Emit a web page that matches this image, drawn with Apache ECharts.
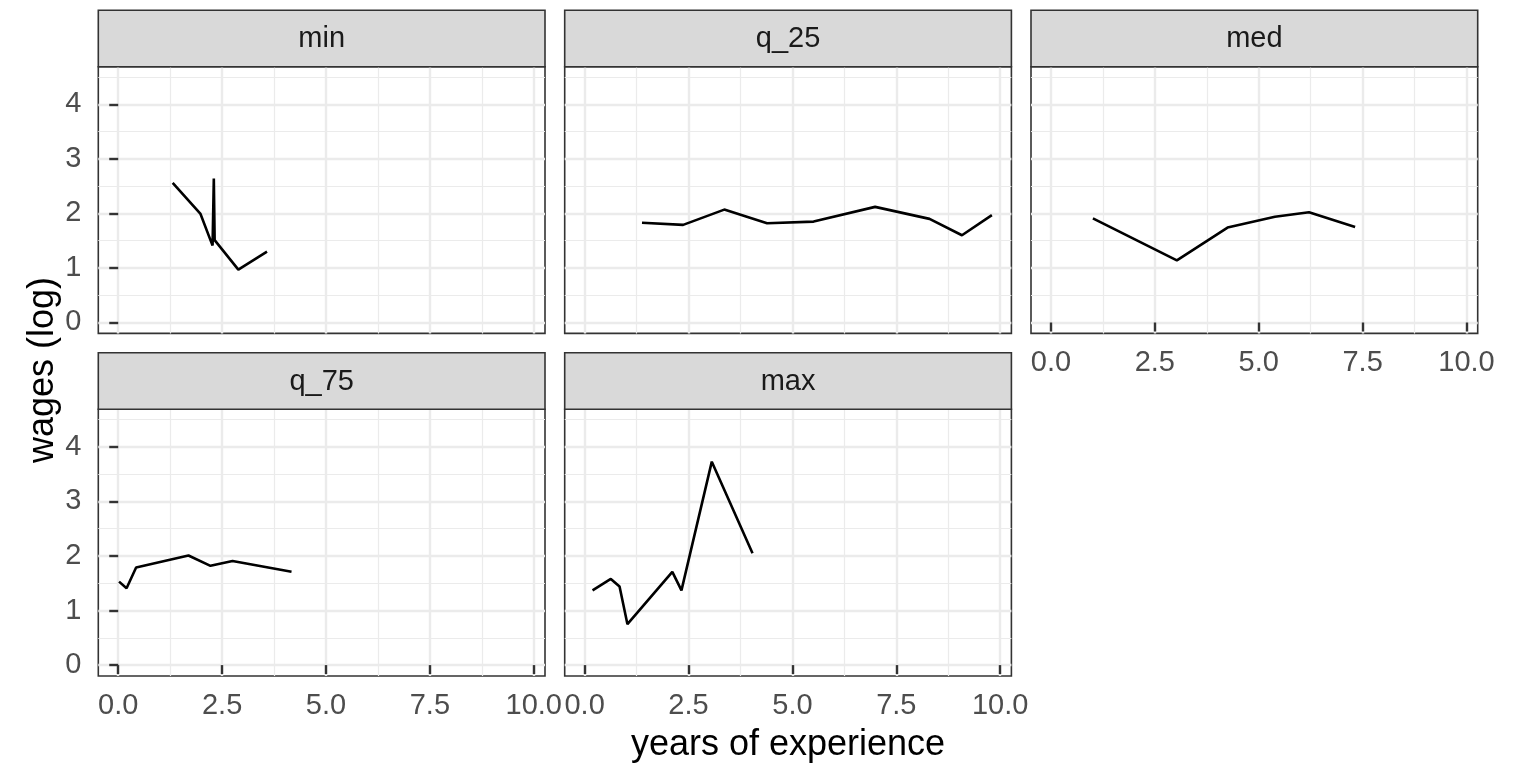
<!DOCTYPE html>
<html>
<head>
<meta charset="utf-8">
<script src="https://cdn.jsdelivr.net/npm/echarts@6/dist/echarts.min.js"></script>
<style>
  html, body { margin: 0; padding: 0; background: #fff; }
  #chart { width: 1527px; height: 764px; }
</style>
</head>
<body>
<div id="chart"></div>
<script>
// Facet labels, in panel order (left to right, top to bottom)
const facetNames = ['min', 'q_25', 'med', 'q_75', 'max'];

// Years of experience / log wages for each facet
const minX = [1.31, 1.98, 2.27, 2.30, 2.32, 2.89, 3.58];
const minY = [2.56, 1.99, 1.41, 2.64, 1.51, 0.97, 1.30];
const q25X = [1.38, 2.37, 3.36, 4.39, 5.51, 6.99, 8.30, 9.08, 9.80];
const q25Y = [1.83, 1.79, 2.07, 1.82, 1.85, 2.12, 1.90, 1.60, 1.97];
const medX = [1.01, 3.03, 4.25, 5.39, 6.21, 7.32];
const medY = [1.91, 1.14, 1.74, 1.94, 2.02, 1.75];
const q75X = [0.02, 0.20, 0.43, 1.69, 2.22, 2.75, 4.17];
const q75Y = [1.53, 1.41, 1.79, 2.01, 1.82, 1.91, 1.71];
const maxX = [0.19, 0.63, 0.84, 1.03, 2.11, 2.33, 3.06, 4.04];
const maxY = [1.37, 1.58, 1.44, 0.75, 1.71, 1.37, 3.73, 2.05];

// Axis breaks
const xTicks = [0, 2.5, 5, 7.5, 10];
const xMinorTicks = [1.25, 3.75, 6.25, 8.75];
const yTicks = [0, 1, 2, 3, 4];
const yMinorTicks = [0.5, 1.5, 2.5, 3.5, 4.5];
const xLimits = [-0.48, 10.27];
const yLimits = [-0.2, 4.69];

const xTitle = 'years of experience';
const yTitle = 'wages (log)';

const facetX = [minX, q25X, medX, q75X, maxX];
const facetY = [minY, q25Y, medY, q75Y, maxY];

// Panel layout (pixels)
const FONT = '"Liberation Sans", Arial, Helvetica, sans-serif';
const panelLefts = [98.3, 564.7, 1031];
const rowTops = [66.7, 409.3];
const panelW = 446.7;
const panelH = 266.7;
const stripH = 56.5;
const gridColor = '#EBEBEB';
const borderColor = '#333333';

// Which panels carry tick labels
const showX = [false, false, true, true, true];
const showY = [true, false, false, true, false];

const grids = [], xAxes = [], yAxes = [], series = [], graphics = [];

facetNames.forEach((name, i) => {
  const col = i % 3, row = Math.floor(i / 3);
  const left = panelLefts[col], top = rowTops[row];
  grids.push({
    left: left, top: top, width: panelW, height: panelH,
    show: true, backgroundColor: '#fff',
    borderColor: borderColor, borderWidth: 1.6,
    containLabel: false
  });

  // major x axis
  xAxes.push({
    type: 'value', gridIndex: i, position: 'bottom',
    min: xLimits[0], max: xLimits[1],
    axisLine: { show: false },
    axisTick: { show: showX[i], customValues: xTicks, length: 9,
      lineStyle: { color: borderColor, width: 2.4 } },
    axisLabel: { show: showX[i], customValues: xTicks, margin: 15,
      color: '#4D4D4D', fontSize: 29, fontFamily: FONT,
      formatter: v => v.toFixed(1) },
    splitLine: { show: true, lineStyle: { color: gridColor, width: 2.4 } }
  });
  // minor x grid
  xAxes.push({
    type: 'value', gridIndex: i, position: 'bottom',
    min: xLimits[0], max: xLimits[1],
    axisLine: { show: false },
    axisTick: { show: false, customValues: xMinorTicks },
    axisLabel: { show: false, customValues: xMinorTicks },
    splitLine: { show: true, lineStyle: { color: gridColor, width: 1.2 } }
  });
  // major y axis
  yAxes.push({
    type: 'value', gridIndex: i, position: 'left',
    min: yLimits[0], max: yLimits[1],
    axisLine: { show: false },
    axisTick: { show: showY[i], customValues: yTicks, length: 9,
      lineStyle: { color: borderColor, width: 2.4 } },
    axisLabel: { show: showY[i], customValues: yTicks, margin: 17,
      color: '#4D4D4D', fontSize: 29, fontFamily: FONT,
      formatter: v => String(v) },
    splitLine: { show: true, lineStyle: { color: gridColor, width: 2.4 } }
  });
  // minor y grid
  yAxes.push({
    type: 'value', gridIndex: i, position: 'left',
    min: yLimits[0], max: yLimits[1],
    axisLine: { show: false },
    axisTick: { show: false, customValues: yMinorTicks },
    axisLabel: { show: false, customValues: yMinorTicks },
    splitLine: { show: true, lineStyle: { color: gridColor, width: 1.2 } }
  });

  series.push({
    type: 'line', xAxisIndex: 2 * i, yAxisIndex: 2 * i,
    data: facetX[i].map((x, k) => [x, facetY[i][k]]),
    showSymbol: false, symbol: 'none', silent: true,
    lineStyle: { color: '#000', width: 2.6 },
    z: 5
  });

  // facet strip
  graphics.push({
    type: 'rect', silent: true, z: 10,
    shape: { x: left, y: top - stripH, width: panelW, height: stripH },
    style: { fill: '#D9D9D9', stroke: borderColor, lineWidth: 1.6 }
  });
  graphics.push({
    type: 'text', silent: true, z: 11,
    x: left + panelW / 2, y: top - stripH / 2 + 1,
    style: { text: name, fill: '#1A1A1A', font: '29px ' + FONT,
      textAlign: 'center', textVerticalAlign: 'middle' }
  });
});

// axis titles
graphics.push({
  type: 'text', silent: true,
  x: (panelLefts[0] + panelLefts[2] + panelW) / 2, y: 745,
  style: { text: xTitle, fill: '#000', font: '36px ' + FONT,
    textAlign: 'center', textVerticalAlign: 'middle' }
});
graphics.push({
  type: 'text', silent: true,
  x: 43, y: 370, rotation: Math.PI / 2,
  style: { text: yTitle, fill: '#000', font: '36px ' + FONT,
    textAlign: 'center', textVerticalAlign: 'middle' }
});

const chart = echarts.init(document.getElementById('chart'), null, { renderer: 'canvas' });
chart.setOption({
  backgroundColor: '#fff',
  animation: false,
  grid: grids,
  xAxis: xAxes,
  yAxis: yAxes,
  series: series,
  graphic: graphics
});
</script>
</body>
</html>
